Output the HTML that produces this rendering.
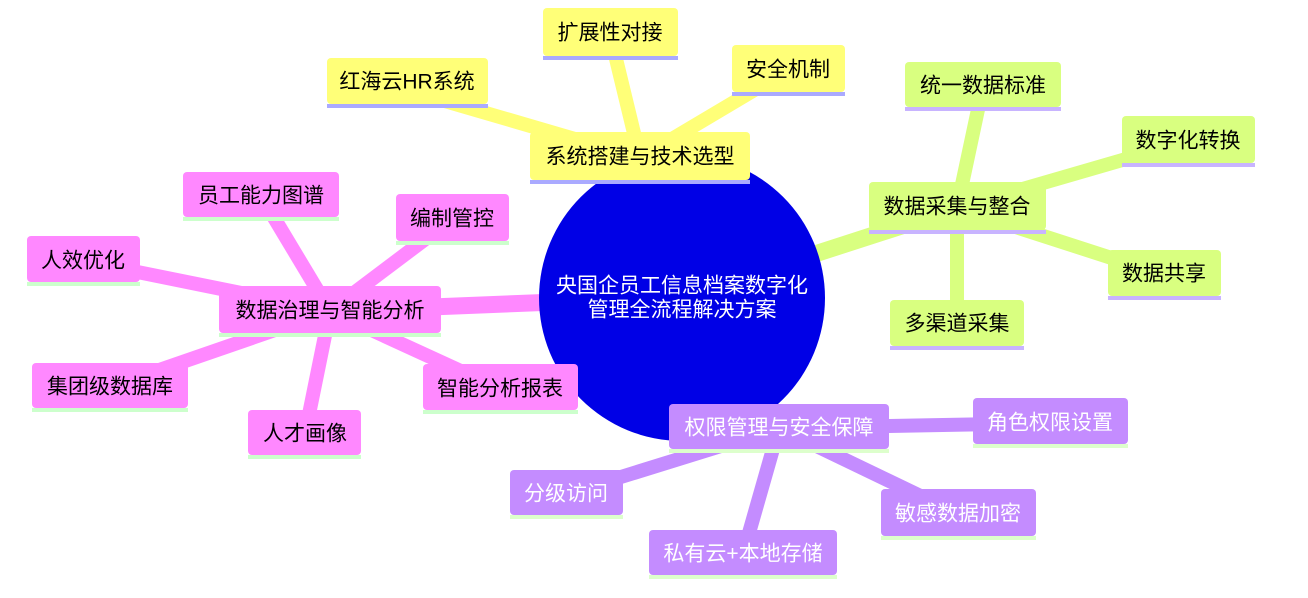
<!DOCTYPE html>
<html><head><meta charset="utf-8"><style>
html,body{margin:0;padding:0;background:#fff;width:1308px;height:598px;overflow:hidden}
text{font-family:"Liberation Sans","Noto Sans CJK SC",sans-serif;font-size:21px;dominant-baseline:central;text-anchor:middle}
</style></head><body>
<svg width="1308" height="598" viewBox="0 0 1308 598" xmlns="http://www.w3.org/2000/svg">
<g stroke-linecap="butt">
<line x1="682" y1="297" x2="640" y2="158" stroke="#ffff78" stroke-width="17"/>
<line x1="682" y1="297" x2="957" y2="208" stroke="#d9ff80" stroke-width="17"/>
<line x1="682" y1="297" x2="330" y2="311" stroke="#ff88ff" stroke-width="17"/>
<line x1="682" y1="297" x2="779" y2="428" stroke="#c48cff" stroke-width="17"/>
<line x1="640" y1="158" x2="407" y2="90" stroke="#ffff78" stroke-width="14"/>
<line x1="640" y1="158" x2="610" y2="34" stroke="#ffff78" stroke-width="14"/>
<line x1="640" y1="158" x2="788" y2="70" stroke="#ffff78" stroke-width="14"/>
<line x1="957" y1="208" x2="983" y2="86" stroke="#d9ff80" stroke-width="14"/>
<line x1="957" y1="208" x2="1188" y2="141" stroke="#d9ff80" stroke-width="14"/>
<line x1="957" y1="208" x2="1164" y2="275" stroke="#d9ff80" stroke-width="14"/>
<line x1="957" y1="208" x2="957" y2="325" stroke="#d9ff80" stroke-width="14"/>
<line x1="330" y1="311" x2="261" y2="196" stroke="#ff88ff" stroke-width="14"/>
<line x1="330" y1="311" x2="452" y2="219" stroke="#ff88ff" stroke-width="14"/>
<line x1="330" y1="311" x2="83" y2="261" stroke="#ff88ff" stroke-width="14"/>
<line x1="330" y1="311" x2="110" y2="387" stroke="#ff88ff" stroke-width="14"/>
<line x1="330" y1="311" x2="305" y2="434" stroke="#ff88ff" stroke-width="14"/>
<line x1="330" y1="311" x2="500" y2="389" stroke="#ff88ff" stroke-width="14"/>
<line x1="779" y1="428" x2="1050" y2="423" stroke="#c48cff" stroke-width="14"/>
<line x1="779" y1="428" x2="566" y2="494" stroke="#c48cff" stroke-width="14"/>
<line x1="779" y1="428" x2="743" y2="554" stroke="#c48cff" stroke-width="14"/>
<line x1="779" y1="428" x2="958" y2="514" stroke="#c48cff" stroke-width="14"/>
</g>
<circle cx="682" cy="298" r="143" fill="#0000e6"/>
<text x="682" y="286" fill="#fff" font-size="21.5">央国企员工信息档案数字化</text>
<text x="682" y="310" fill="#fff" font-size="21.5">管理全流程解决方案</text>
<g>
<rect x="530" y="132" width="220" height="48" rx="4" fill="#ffff78"/><rect x="530" y="180" width="220" height="4" fill="#aaaaff"/><text x="640" y="157">系统搭建与技术选型</text>
<rect x="327" y="58" width="161" height="46" rx="4" fill="#ffff78"/><rect x="327" y="104" width="161" height="4" fill="#aaaaff"/><text x="407" y="82">红海云HR系统</text>
<rect x="543" y="8" width="135" height="48" rx="4" fill="#ffff78"/><rect x="543" y="56" width="135" height="4" fill="#aaaaff"/><text x="610" y="33">扩展性对接</text>
<rect x="732" y="45" width="113" height="47" rx="4" fill="#ffff78"/><rect x="732" y="92" width="113" height="4" fill="#aaaaff"/><text x="788" y="70">安全机制</text>
</g>
<g>
<rect x="869" y="182" width="177" height="48" rx="4" fill="#d9ff80"/><rect x="869" y="230" width="177" height="4" fill="#c8b4ff"/><text x="957" y="207">数据采集与整合</text>
<rect x="905" y="62" width="156" height="45" rx="4" fill="#d9ff80"/><rect x="905" y="107" width="156" height="4" fill="#c8b4ff"/><text x="983" y="86">统一数据标准</text>
<rect x="1122" y="116" width="133" height="47" rx="4" fill="#d9ff80"/><rect x="1122" y="163" width="133" height="4" fill="#c8b4ff"/><text x="1188" y="141">数字化转换</text>
<rect x="1108" y="250" width="113" height="46" rx="4" fill="#d9ff80"/><rect x="1108" y="296" width="113" height="4" fill="#c8b4ff"/><text x="1164" y="274">数据共享</text>
<rect x="890" y="300" width="134" height="46" rx="4" fill="#d9ff80"/><rect x="890" y="346" width="134" height="4" fill="#c8b4ff"/><text x="957" y="324">多渠道采集</text>
</g>
<g>
<rect x="219" y="286" width="222" height="47" rx="4" fill="#ff88ff"/><rect x="219" y="333" width="222" height="4" fill="#ccffcc"/><text x="330" y="311">数据治理与智能分析</text>
<rect x="183" y="172" width="156" height="45" rx="4" fill="#ff88ff"/><rect x="183" y="217" width="156" height="4" fill="#ccffcc"/><text x="261" y="196">员工能力图谱</text>
<rect x="396" y="194" width="113" height="47" rx="4" fill="#ff88ff"/><rect x="396" y="241" width="113" height="4" fill="#ccffcc"/><text x="452" y="219">编制管控</text>
<rect x="27" y="236" width="113" height="46" rx="4" fill="#ff88ff"/><rect x="27" y="282" width="113" height="4" fill="#ccffcc"/><text x="83" y="261">人效优化</text>
<rect x="32" y="363" width="156" height="45" rx="4" fill="#ff88ff"/><rect x="32" y="408" width="156" height="4" fill="#ccffcc"/><text x="110" y="387">集团级数据库</text>
<rect x="248" y="410" width="113" height="45" rx="4" fill="#ff88ff"/><rect x="248" y="455" width="113" height="4" fill="#ccffcc"/><text x="305" y="434">人才画像</text>
<rect x="423" y="364" width="155" height="46" rx="4" fill="#ff88ff"/><rect x="423" y="410" width="155" height="4" fill="#ccffcc"/><text x="500" y="389">智能分析报表</text>
</g>
<g>
<rect x="669" y="404" width="220" height="45" rx="4" fill="#c48cff"/><rect x="669" y="449" width="220" height="4" fill="#ddffcc"/><text x="779" y="428" fill="#fff">权限管理与安全保障</text>
<rect x="973" y="398" width="155" height="46" rx="4" fill="#c48cff"/><rect x="973" y="444" width="155" height="4" fill="#ddffcc"/><text x="1050" y="423" fill="#fff">角色权限设置</text>
<rect x="510" y="470" width="113" height="45" rx="4" fill="#c48cff"/><rect x="510" y="515" width="113" height="4" fill="#ddffcc"/><text x="566" y="494" fill="#fff">分级访问</text>
<rect x="649" y="530" width="188" height="45" rx="4" fill="#c48cff"/><rect x="649" y="575" width="188" height="4" fill="#ddffcc"/><text x="743" y="554" fill="#fff">私有云+本地存储</text>
<rect x="881" y="489" width="155" height="47" rx="4" fill="#c48cff"/><rect x="881" y="536" width="155" height="4" fill="#ddffcc"/><text x="958" y="514" fill="#fff">敏感数据加密</text>
</g>
</svg>
</body></html>
